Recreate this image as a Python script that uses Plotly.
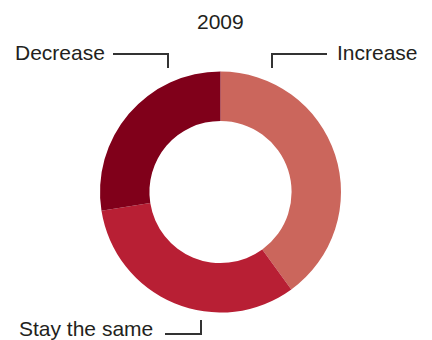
import plotly.graph_objects as go

# Survey responses for 2009 (share of respondents, %)
categories = ["Increase", "Stay the same", "Decrease"]
shares = [40, 32.5, 27.5]
colors = ["#CB665C", "#B81F34", "#80001A"]
year_label = "2009"

W, H = 432, 340
cx, cy, r = 220.5, 192.0, 120.5  # donut centre and outer radius, px


def px(x):
    return x / W


def py(y):
    return 1 - y / H


fig = go.Figure(
    go.Pie(
        labels=categories,
        values=shares,
        marker=dict(colors=colors, line=dict(width=0)),
        hole=0.59,
        sort=False,
        direction="clockwise",
        rotation=0,
        textinfo="none",
        showlegend=False,
        domain=dict(x=[px(cx - r), px(cx + r)], y=[py(cy + r), py(cy - r)]),
    )
)

font = dict(family="Liberation Sans, Arial, sans-serif", size=21, color="#231F20")
line = dict(color="#333333", width=2)

annotations = [
    dict(text=year_label, x=px(220), y=py(21), xanchor="center", yanchor="middle"),
    dict(text=categories[2], x=px(107), y=py(52), xanchor="right", yanchor="middle"),
    dict(text=categories[0], x=px(335), y=py(52), xanchor="left", yanchor="middle"),
    dict(text=categories[1], x=px(17), y=py(328), xanchor="left", yanchor="middle"),
]
for a in annotations:
    a.update(xref="paper", yref="paper", showarrow=False, font=font)

# Leader lines from each label towards its slice
paths = [
    [(113, 54), (168, 54), (168, 68)],
    [(327, 54), (272, 54), (272, 68)],
    [(165, 334), (201, 334), (201, 320)],
]
shapes = []
for pts in paths:
    d = "M " + " L ".join(f"{px(x)} {py(y)}" for x, y in pts)
    shapes.append(dict(type="path", path=d, xref="paper", yref="paper", line=line))

fig.update_layout(
    width=W,
    height=H,
    margin=dict(l=0, r=0, t=0, b=0, autoexpand=False),
    paper_bgcolor="white",
    plot_bgcolor="white",
    annotations=annotations,
    shapes=shapes,
)

fig.write_html("out.html", config=dict(displayModeBar=False))
